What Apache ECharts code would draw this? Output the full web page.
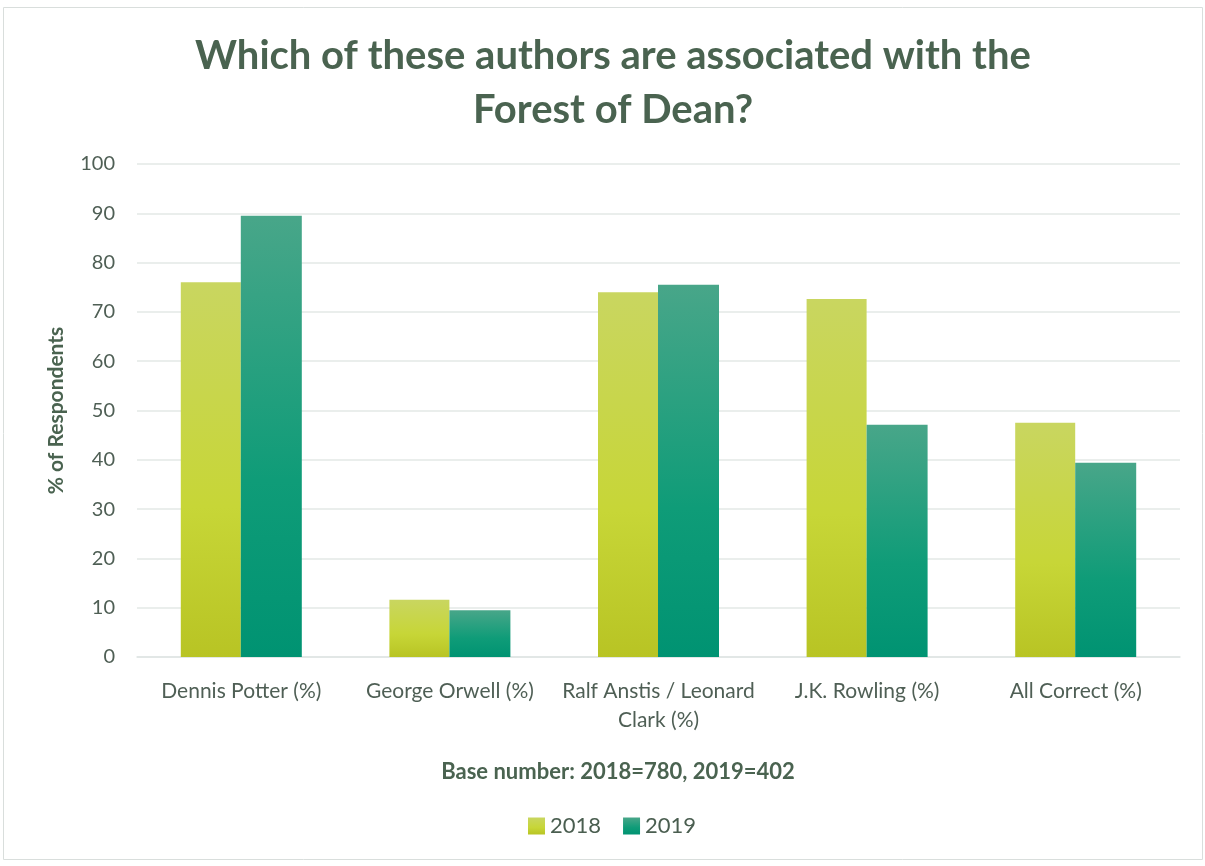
<!DOCTYPE html>
<html>
<head>
<meta charset="utf-8">
<script src="https://cdn.jsdelivr.net/npm/echarts@6/dist/echarts.min.js"></script>
<style>
html,body{margin:0;padding:0;background:#fff;}
#main{width:1205px;height:866px;}
</style>
</head>
<body>
<div id="main"></div>
<script>
var categories = ['Dennis Potter (%)', 'George Orwell (%)', 'Ralf Anstis / Leonard\nClark (%)', 'J.K. Rowling (%)', 'All Correct (%)'];
var values2018 = [76, 11.6, 74, 72.6, 47.5];
var values2019 = [89.5, 9.5, 75.5, 47.1, 39.4];
var yTicks = [0, 10, 20, 30, 40, 50, 60, 70, 80, 90, 100];

var myChart = echarts.init(document.getElementById('main'));

var grad2018 = new echarts.graphic.LinearGradient(0, 0, 0, 1, [
    {offset: 0, color: '#c9d660'},
    {offset: 0.6, color: '#c7d637'},
    {offset: 1, color: '#b8c424'}
]);
var grad2019 = new echarts.graphic.LinearGradient(0, 0, 0, 1, [
    {offset: 0, color: '#48a689'},
    {offset: 0.6, color: '#0f9c78'},
    {offset: 1, color: '#009372'}
]);

var option = {
    textStyle: {fontFamily: 'Lato'},
    title: [
        {
            text: 'Which of these authors are associated with the\nForest of Dean?',
            left: 608,
            top: 24,
            textAlign: 'center',
            textStyle: {
                fontFamily: 'Lato',
                fontSize: 40,
                fontWeight: 'bold',
                color: '#4a6350',
                lineHeight: 54,
                align: 'center'
            }
        },
        {
            text: 'Base number: 2018=780, 2019=402',
            left: 613,
            top: 756,
            textAlign: 'center',
            textStyle: {
                fontFamily: 'Lato',
                fontSize: 22,
                fontWeight: 'bold',
                color: '#4a6350'
            }
        }
    ],
    graphic: [{
        type: 'rect',
        shape: {x: 3.5, y: 7.5, width: 1199, height: 852},
        style: {fill: 'none', stroke: '#d9dedc', lineWidth: 1},
        silent: true
    }],
    legend: {
        data: ['2018', '2019'],
        bottom: 24,
        left: 523,
        itemWidth: 17,
        itemHeight: 17,
        itemGap: 22,
        icon: 'rect',
        textStyle: {fontFamily: 'Lato', fontSize: 22, color: '#4a5e50'}
    },
    grid: {
        left: 137,
        right: 25,
        top: 164,
        bottom: 209
    },
    xAxis: {
        type: 'category',
        data: categories,
        axisTick: {show: false},
        axisLine: {lineStyle: {color: '#dfe5e3', width: 1.5}},
        axisLabel: {
            fontFamily: 'Lato',
            fontSize: 21,
            color: '#4f5f55',
            margin: 20,
            lineHeight: 29,
            interval: 0
        }
    },
    yAxis: {
        type: 'value',
        min: 0,
        max: 100,
        interval: 10,
        name: '% of Respondents',
        nameLocation: 'middle',
        nameGap: 70,
        nameTextStyle: {fontFamily: 'Lato', fontSize: 21, fontWeight: 'bold', color: '#4a6350'},
        axisLine: {show: false},
        axisTick: {show: false},
        axisLabel: {
            fontFamily: 'Lato',
            fontSize: 20,
            color: '#4f5f55',
            margin: 22,
            formatter: function (v) { return yTicks.indexOf(v) >= 0 ? String(v) : ''; }
        },
        splitLine: {lineStyle: {color: '#e3e8e6', width: 1.5}}
    },
    series: [
        {
            name: '2018',
            type: 'bar',
            data: values2018,
            barWidth: 60,
            barGap: '0%',
            itemStyle: {color: grad2018}
        },
        {
            name: '2019',
            type: 'bar',
            data: values2019,
            barWidth: 61,
            barGap: '0%',
            itemStyle: {color: grad2019}
        }
    ]
};

myChart.setOption(option);
</script>
</body>
</html>
